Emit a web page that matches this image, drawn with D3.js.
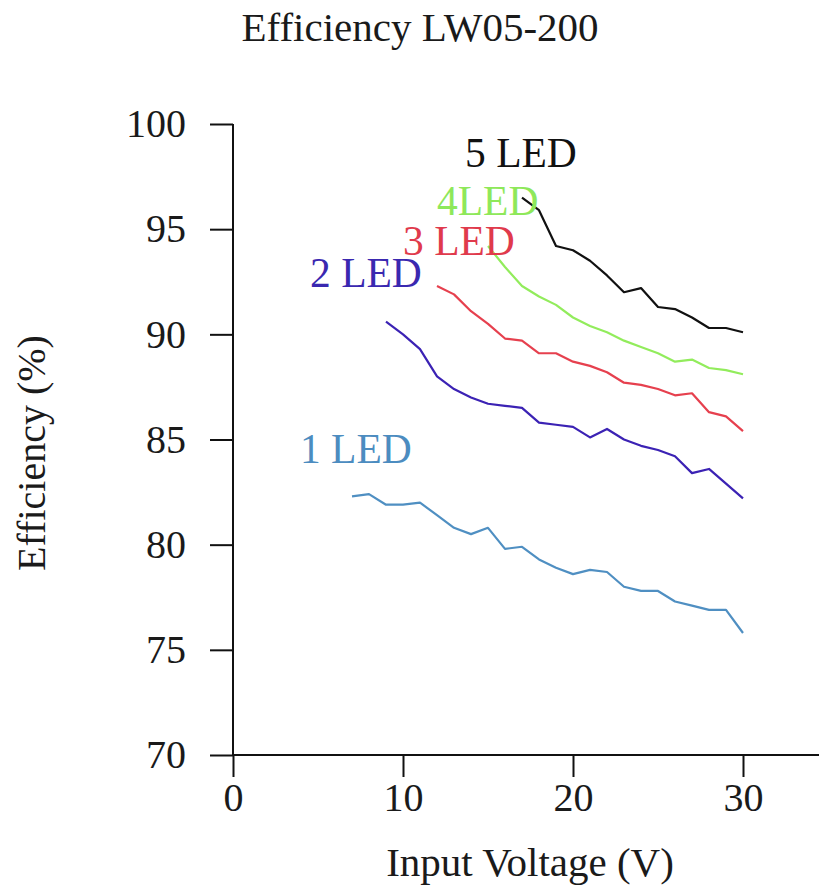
<!DOCTYPE html>
<html>
<head>
<meta charset="utf-8">
<script src="https://cdn.jsdelivr.net/npm/d3@7/dist/d3.min.js"></script>
<style>
  html, body { margin: 0; padding: 0; background: #fff; }
  svg { display: block; }
  text { font-family: "Liberation Serif", "Times New Roman", serif; fill: #1a1a1a; }
</style>
</head>
<body>
<svg id="chart" width="819" height="894"></svg>
<script>
// ---- Data ----
const seriesNames = ["1 LED", "2 LED", "3 LED", "4LED", "5 LED"];
const led1Voltage = [7, 8, 9, 10, 11, 12, 13, 14, 15, 16, 17, 18, 19, 20, 21, 22, 23, 24, 25, 26, 27, 28, 29, 30];
const led1Eff = [82.3, 82.4, 81.9, 81.9, 82.0, 81.4, 80.8, 80.5, 80.8, 79.8, 79.9, 79.3, 78.9, 78.6, 78.8, 78.7, 78.0, 77.8, 77.8, 77.3, 77.1, 76.9, 76.9, 75.8];
const led2Voltage = [9, 10, 11, 12, 13, 14, 15, 16, 17, 18, 19, 20, 21, 22, 23, 24, 25, 26, 27, 28, 29, 30];
const led2Eff = [90.6, 90.0, 89.3, 88.0, 87.4, 87.0, 86.7, 86.6, 86.5, 85.8, 85.7, 85.6, 85.1, 85.5, 85.0, 84.7, 84.5, 84.2, 83.4, 83.6, 82.9, 82.2];
const led3Voltage = [12, 13, 14, 15, 16, 17, 18, 19, 20, 21, 22, 23, 24, 25, 26, 27, 28, 29, 30];
const led3Eff = [92.3, 91.9, 91.1, 90.5, 89.8, 89.7, 89.1, 89.1, 88.7, 88.5, 88.2, 87.7, 87.6, 87.4, 87.1, 87.2, 86.3, 86.1, 85.4];
const led4Voltage = [15, 16, 17, 18, 19, 20, 21, 22, 23, 24, 25, 26, 27, 28, 29, 30];
const led4Eff = [94.2, 93.2, 92.3, 91.8, 91.4, 90.8, 90.4, 90.1, 89.7, 89.4, 89.1, 88.7, 88.8, 88.4, 88.3, 88.1];
const led5Voltage = [17, 18, 19, 20, 21, 22, 23, 24, 25, 26, 27, 28, 29, 30];
const led5Eff = [96.5, 95.9, 94.2, 94.0, 93.5, 92.8, 92.0, 92.2, 91.3, 91.2, 90.8, 90.3, 90.3, 90.1];
const xTicks = [0, 10, 20, 30];
const yTicks = [70, 75, 80, 85, 90, 95, 100];

// ---- Styling / layout ----
const colors = ["#4f8fc2", "#3b22b4", "#e6404e", "#92ec5c", "#111111"];
const labelColors = ["#4c8cc0", "#3a28b0", "#e03a4c", "#8ee85a", "#111111"];
// label anchors in data units (volts, %)
const labelAnchors = [[3.94, 83.88], [4.53, 92.25], [10.0, 93.77], [12.0, 95.67], [13.65, 97.96]];

const W = 819, H = 894;
const FS = 41;
const x = d3.scaleLinear().domain([0, 30]).range([233, 743]);
const y = d3.scaleLinear().domain([70, 100]).range([755, 124]);

const svg = d3.select("#chart");

const seriesX = [led1Voltage, led2Voltage, led3Voltage, led4Voltage, led5Voltage];
const seriesY = [led1Eff, led2Eff, led3Eff, led4Eff, led5Eff];

// Axes
const xAxis = d3.axisBottom(x).tickValues(xTicks).tickSize(22).tickSizeOuter(0).tickPadding(6);
const gx = svg.append("g").attr("transform", `translate(0,${y(70)})`).call(xAxis);
gx.select(".domain").remove();
gx.append("line").attr("x1", x(0)).attr("x2", W).attr("y1", 0).attr("y2", 0)
  .attr("stroke", "#111").attr("stroke-width", 2);
gx.selectAll(".tick line").attr("stroke", "#111").attr("stroke-width", 2);
gx.selectAll(".tick text").attr("font-size", 40).attr("fill", "#1a1a1a")
  .style("font-family", "'Liberation Serif', 'Times New Roman', serif");

const yAxis = d3.axisLeft(y).tickValues(yTicks).tickSize(23).tickSizeOuter(0).tickPadding(24);
const gy = svg.append("g").attr("transform", `translate(${x(0)},0)`).call(yAxis);
gy.select(".domain").remove();
gy.append("line").attr("x1", 0).attr("x2", 0).attr("y1", y(100)).attr("y2", y(70))
  .attr("stroke", "#111").attr("stroke-width", 2);
gy.selectAll(".tick line").attr("stroke", "#111").attr("stroke-width", 2);
gy.selectAll(".tick text").attr("font-size", 40).attr("fill", "#1a1a1a")
  .style("font-family", "'Liberation Serif', 'Times New Roman', serif");

// Lines
const line = d3.line().x(d => x(d[0])).y(d => y(d[1]));
seriesNames.forEach((name, i) => {
  const pts = seriesX[i].map((v, j) => [v, seriesY[i][j]]);
  svg.append("path").datum(pts)
    .attr("fill", "none")
    .attr("stroke", colors[i])
    .attr("stroke-width", 2.2)
    .attr("stroke-linejoin", "round")
    .attr("d", line);
});

// Series labels
seriesNames.forEach((name, i) => {
  svg.append("text")
    .attr("x", x(labelAnchors[i][0]))
    .attr("y", y(labelAnchors[i][1]))
    .attr("font-size", 41.5)
    .style("fill", labelColors[i])
    .text(name);
});

// Title
svg.append("text").attr("x", 420).attr("y", 41).attr("text-anchor", "middle")
  .attr("font-size", FS).text("Efficiency LW05-200");

// Axis titles
svg.append("text").attr("x", 530).attr("y", 876).attr("text-anchor", "middle")
  .attr("font-size", FS).text("Input Voltage (V)");
svg.append("text").attr("transform", "translate(45,453) rotate(-90)")
  .attr("text-anchor", "middle").attr("font-size", 40).text("Efficiency (%)");
</script>
</body>
</html>
